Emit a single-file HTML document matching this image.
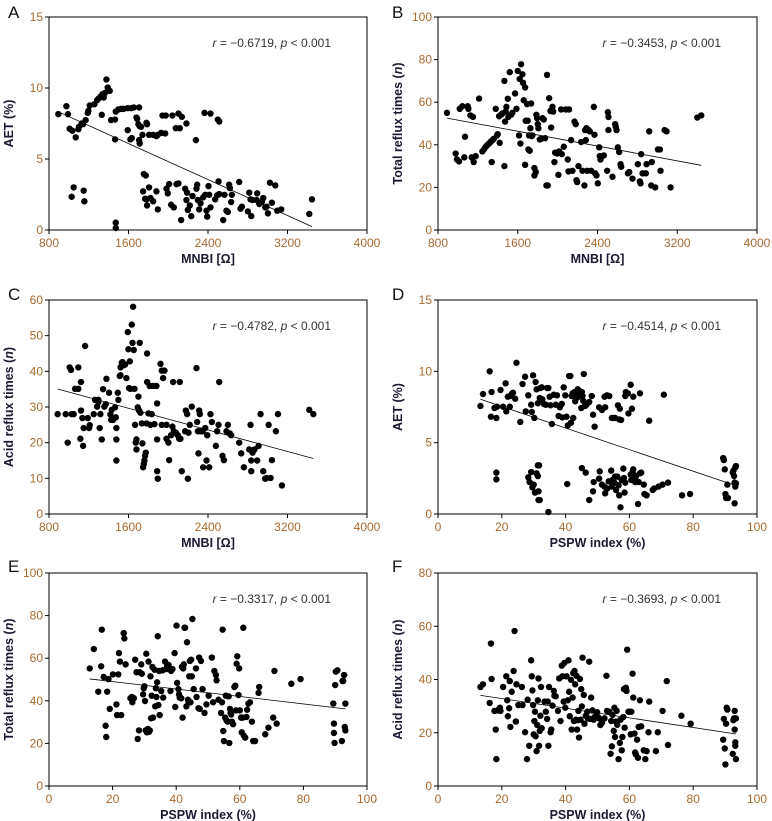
<!DOCTYPE html>
<html><head><meta charset="utf-8"><style>
body{margin:0;background:#fff;}
svg{display:block;font-family:"Liberation Sans",sans-serif;}
.tick{fill:#a8692e;font-size:12px;}
.title{fill:#1a1a33;font-size:12.5px;font-weight:bold;}
.stat{fill:#333;font-size:12px;}
.letter{fill:#111;font-size:17px;}
</style></head><body>
<svg id="chart" width="772" height="821" viewBox="0 0 772 821"></svg>
<script>
// Panel A: MNBI vs AET
const aX=[894,975,991,1008,1035,1069,1096,1102,1129,1143,1169,1190,1196,1210,1257,1284,1297,1317,1337,1351,1364,1378,1391,1411,1331,1425,1465,1472,1465,1498,1525,1552,1592,1626,1653,1707,1592,1619,1633,1680,1687,1700,1713,1727,1707,1713,1740,1781,1787,1807,1848,1881,1895,1928,1942,1975,1969,2042,2076,2103,2116,2137,2183,2278,2365,2425,2499,2513,
1028,1048,1149,1156,1472,1472,1754,1774,1747,1767,1781,1807,1787,1821,1848,1881,1895,1982,1995,2009,2029,2056,2083,2103,2130,2170,2183,2190,2197,2217,2231,2244,2284,2291,2298,2311,2325,2351,2372,2385,2392,2405,2412,2425,2472,2492,2506,2513,2553,2566,2586,2600,2613,2620,2633,2640,2714,2727,2741,2801,2815,2828,2835,2848,2889,2895,2916,2942,2956,2976,2989,3003,3023,3043,3077,3097,3137,3419,3446];
const aY=[8.16,8.72,8.16,7.13,6.99,6.52,7.10,7.27,7.50,7.45,7.74,8.25,8.39,8.77,8.86,9.14,9.24,9.38,9.56,9.33,9.66,10.6,10.03,9.80,8.11,7.74,7.78,8.34,6.38,8.49,8.53,8.53,8.58,8.58,8.63,8.63,7.03,6.38,6.47,7.92,7.83,7.45,7.31,7.27,6.33,6.09,6.70,7.55,7.45,6.70,6.70,6.61,6.70,6.84,8.06,8.06,6.80,8.06,7.17,8.20,7.17,7.97,7.50,6.33,8.25,8.20,7.78,7.64,
2.34,3.00,2.77,2.02,0.52,0.14,3.94,3.84,2.72,2.20,2.16,3.00,1.73,2.25,2.02,2.72,1.45,2.91,2.58,3.23,1.78,1.59,3.23,3.28,0.70,2.91,2.11,2.63,1.41,1.73,0.98,2.39,2.91,3.19,2.11,1.45,1.88,2.30,2.48,1.36,0.94,3.09,2.48,1.59,2.16,2.44,3.42,2.53,0.70,2.48,1.36,1.27,3.19,2.95,1.97,2.48,3.38,1.50,1.64,1.31,2.63,2.16,0.98,2.11,2.11,2.58,1.83,1.97,2.25,1.59,1.64,1.17,3.33,1.92,3.14,1.36,1.45,1.13,2.16];
// Panel B: MNBI vs total reflux
const bX=[890,977,991,1011,1018,1044,1064,1071,1098,1105,1125,1138,1151,1158,1178,1212,1245,1265,1279,1292,1305,1319,1332,1339,1346,1359,1379,1392,1399,1413,1419,1433,1446,1466,1466,1473,1479,1486,1500,1506,1520,1533,1546,1573,1587,1600,1613,1620,1627,1633,1647,1653,1660,1674,1674,1680,1694,1700,1707,1714,1720,1727,1734,1740,1747,1767,1767,1781,1787,1794,1801,1807,1821,1834,1848,1861,1874,1888,1894,1901,1915,1928,1935,1948,1955,1968,1975,1995,2008,2015,2035,2042,2062,2082,2102,2109,2115,2135,2149,2169,2182,2189,2196,2209,2236,2249,2269,2276,2283,2289,2296,2310,2323,2336,2363,2370,2376,2390,2403,2417,2423,2430,2463,2497,2504,2510,2510,2550,2577,2584,2591,2604,2617,2631,2638,2705,2718,2751,2805,2825,2832,2838,2852,2885,2892,2919,2939,2945,2979,3006,3026,3032,3073,3093,3133,3401,3441];
const bY=[55,35.9,33.1,32.2,56.9,58.1,34.1,43.8,58.1,56.9,53.8,34.1,53.1,31.9,34.7,61.7,36.9,38.1,39.1,39.7,40.3,40.9,41.6,31.9,42.2,42.8,56.9,44.4,45,53.4,40.9,54.1,54.7,70,30,50.9,55.6,57.8,61.6,53.1,74.1,54.1,55,64.1,56.9,74.7,44.4,70.9,40.6,77.8,73.1,69.1,60.9,66.9,30.6,51.3,59.1,51.3,37.8,44.4,37.2,47.8,59.4,44.1,44.4,25.6,29.1,27.2,54.1,52.5,49.7,47.8,42.5,42.8,52.5,51.9,43.1,20.9,72.8,20.9,61.9,55.9,48.1,57.8,55.6,31.9,36.3,35.9,25.9,36.9,56.6,35.6,39.1,56.6,33.1,27.5,56.6,42.2,27.8,50.9,49.7,23.4,22.5,30,41.3,27.8,20.9,46.9,42.2,47.8,27.8,46.9,46.3,27.8,57.8,44.7,26.6,25.6,21.9,38.8,34.7,33.1,35,27.8,55.3,53.1,46.9,25,49.7,48.4,46.9,38.8,36.6,30.9,29.7,26.6,27.2,24.1,30.9,22.8,21.9,35.6,26.6,26.6,30.9,46.3,20.9,31.9,20,37.8,37.8,27.8,46.9,46.3,20,52.8,53.8];
// Panel C: MNBI vs acid reflux
const cX=[887,968,988,1008,1022,1028,1048,1062,1095,1095,1116,1122,1122,1136,1143,1149,1163,1190,1203,1210,1250,1263,1284,1297,1297,1310,1317,1331,1344,1357,1371,1378,1404,1418,1425,1431,1445,1465,1472,1478,1478,1478,1492,1498,1512,1519,1519,1532,1539,1552,1566,1579,1593,1599,1606,1613,1619,1633,1640,1646,1653,1660,1666,1673,1680,1680,1693,1700,1707,1713,1720,1734,1740,1747,1754,1760,1767,1774,1781,1787,1787,1801,1814,1821,1834,1848,1861,1881,1888,1888,1888,1895,1922,1935,1935,1948,1962,1982,1982,2002,2009,2029,2042,2049,2056,2076,2096,2110,2116,2123,2136,2170,2177,2190,2197,2204,2217,2237,2284,2291,2298,2304,2311,2318,2325,2345,2351,2372,2385,2392,2412,2425,2439,2479,2492,2506,2513,2546,2560,2586,2600,2620,2633,2714,2734,2761,2815,2828,2835,2835,2848,2868,2895,2909,2929,2956,2976,2989,3010,3030,3043,3083,3104,3144,3419,3460];
const cY=[28.0,28.0,20.0,41.1,40.4,28.0,28.0,35.1,35.1,41.1,21.1,37.0,29.0,26.9,19.1,24.1,47.1,26.9,24.1,24.9,28.0,32.0,30.1,31.4,32.0,24.1,28.0,20.9,35.0,30.1,30.8,37.9,34.0,27.9,26.4,29.2,26.4,29.9,27.1,24.1,20.9,15.0,34.0,32.0,38.7,38.9,41.1,42.4,42.6,41.7,41.9,38.1,51.0,46.2,35.3,42.8,35.1,53.1,48.0,58.1,46.0,35.1,25.0,20.0,20.9,18.1,29.9,32.9,29.0,48.0,28.4,25.4,19.8,13.1,14.0,15.0,16.3,17.2,25.4,37.0,45.0,28.2,35.9,25.0,28.0,35.9,25.2,35.9,31.0,20.9,12.0,9.9,42.1,40.2,25.0,38.1,40.2,25.0,21.1,20.0,15.1,22.1,24.5,37.0,23.2,22.8,22.1,21.1,37.0,21.1,12.0,23.2,29.0,28.0,9.9,22.8,25.0,30.1,40.9,25.8,23.2,17.0,29.0,28.0,23.2,23.2,13.1,24.1,15.0,22.1,13.1,28.0,25.8,19.1,23.2,25.0,37.0,16.3,15.1,23.2,25.0,22.6,22.1,20.0,17.0,13.1,18.1,25.0,15.0,12.0,17.2,18.1,15.0,19.1,28.0,12.0,9.9,10.1,25.0,10.1,15.1,23.2,28.0,8.0,29.2,28.0];
// Panel D: PSPW vs AET
const dX=[13.3,14.1,16.2,16.6,16.8,17.7,18.3,18.5,19.6,20.4,21.2,21.4,21.9,22.5,22.7,23.1,23.5,24.2,24.6,25.8,26.5,27.3,27.5,28.3,29.2,29.4,29.8,30.2,30.6,30.9,31.3,31.9,32.1,32.5,32.7,33.2,33.8,34.2,34.6,35.0,35.3,35.7,36.3,36.9,37.3,37.8,38.2,38.8,39.0,39.4,39.9,40.3,40.7,41.1,41.5,41.7,41.9,42.2,42.4,42.8,43.0,43.2,43.4,43.6,43.8,44.0,44.2,44.5,44.9,45.1,45.3,45.5,45.7,46.1,46.5,47.4,48.2,48.6,49.1,50.5,51.4,52.2,52.4,53.0,53.7,54.5,55.1,55.5,56.4,56.8,57.0,57.4,58.7,58.9,59.5,59.7,60.4,60.8,61.2,63.3,66.2,70.8,
18.3,18.3,28.3,28.7,29.2,29.6,30.0,30.4,30.9,31.3,31.3,31.5,31.5,31.7,31.9,34.6,40.5,45.1,46.3,47.4,48.6,48.8,50.5,50.7,51.4,52.2,52.4,53.0,53.5,54.3,54.5,54.7,55.3,55.5,55.8,56.2,56.6,56.8,57.2,57.6,58.1,58.3,58.5,58.7,60.4,60.6,61.0,61.2,61.6,61.8,62.0,62.7,62.9,63.3,63.7,64.5,64.7,65.4,67.3,67.7,69.1,70.4,72.1,76.5,79.0,89.4,89.6,89.9,90.1,90.3,90.7,90.9,92.4,92.6,92.8,93.0,93.2,93.4,93.4,93.0,93.2];
const dY=[7.57,8.41,10.0,6.82,8.55,7.43,6.73,7.52,8.69,7.52,9.16,7.19,8.22,7.52,8.27,8.41,8.50,8.08,10.6,6.45,9.11,9.62,7.19,8.32,7.66,7.15,9.72,6.73,9.25,8.74,7.76,8.13,8.83,8.88,8.04,7.71,7.66,8.83,8.83,8.22,7.62,6.31,8.36,7.66,8.32,6.87,7.48,7.71,6.77,8.88,8.32,6.82,6.21,9.67,9.67,6.40,8.27,8.46,6.73,8.55,7.90,8.08,8.46,8.32,8.74,8.22,8.46,8.60,7.43,8.55,8.27,7.94,9.81,7.57,7.66,7.85,8.27,6.96,6.12,7.48,7.29,8.22,7.48,8.32,8.27,6.73,6.73,6.73,7.62,6.63,7.38,6.59,8.27,8.55,8.46,7.05,9.06,7.38,8.22,8.46,6.54,8.36,
2.90,2.43,2.57,2.24,2.94,1.87,2.06,1.50,2.85,3.41,2.66,1.59,0.98,3.41,0.98,0.14,2.10,3.22,2.90,0.98,1.59,2.24,2.48,2.99,2.06,1.92,1.45,1.78,2.29,3.04,1.92,2.38,2.20,2.62,1.68,2.62,2.01,1.31,0.47,2.38,3.18,2.52,1.50,2.20,2.76,2.38,2.94,3.13,2.71,2.24,2.62,0.70,2.24,2.85,2.90,2.06,1.40,1.31,1.68,1.78,1.92,2.06,2.20,1.31,1.40,3.92,3.78,3.13,1.40,1.12,2.06,1.12,2.90,3.04,2.66,2.20,3.27,3.36,2.15,0.75,1.92];
// Panel E: PSPW vs total reflux
const eX=[12.8,14.1,15.5,16.4,16.6,17.2,17.8,18.0,18.3,18.7,19.1,20.1,21.2,21.4,21.8,22.0,22.3,22.7,23.5,23.7,24.1,25.6,26.0,26.2,26.7,27.1,27.5,27.9,28.3,28.5,29.0,29.2,29.6,29.8,30.0,30.2,30.4,30.6,30.8,31.1,31.3,31.5,31.7,31.9,32.1,32.3,32.5,32.7,33.2,33.4,33.6,33.8,34.0,34.2,34.4,34.6,34.8,35.3,35.7,35.9,36.5,36.9,37.1,37.6,38.2,38.4,38.8,39.5,39.7,40.1,40.3,40.7,40.9,41.1,41.6,41.8,42.0,42.2,42.4,42.6,42.8,43.2,43.4,43.7,43.9,44.1,44.3,44.5,44.7,44.9,45.1,45.5,46.2,46.4,47.0,47.2,47.4,47.8,48.3,48.9,49.5,50.2,51.2,51.6,52.0,52.5,52.7,53.3,54.1,54.4,54.6,54.8,55.0,55.4,55.6,55.8,56.2,56.5,56.7,56.9,57.1,57.3,57.5,57.9,58.3,58.6,58.8,59.0,59.2,59.6,59.8,60.0,60.4,60.6,60.9,61.1,61.3,61.7,62.1,62.3,62.7,63.2,63.8,64.2,64.8,65.9,66.1,68.0,69.0,70.5,70.9,71.6,76.2,79.1,89.4,89.6,89.6,89.8,90.0,90.2,90.7,92.1,92.3,92.5,92.8,92.8,93.0,93.2,93.2];
const eY=[55.2,64.3,44.3,56.2,73.4,51.2,28.3,23.0,44.3,50.2,36.2,52.4,38.3,33.3,52.4,62.4,58.4,33.3,71.8,69.3,57.1,41.2,41.8,39.3,41.2,59.3,53.4,22.1,26.1,53.4,57.1,52.7,43.0,45.9,46.8,39.9,26.1,62.1,25.2,26.8,58.4,25.5,26.1,51.5,31.8,42.4,55.9,32.1,54.6,37.4,45.9,41.8,48.7,70.3,38.0,54.0,33.3,44.6,54.3,41.5,58.4,54.9,55.9,56.8,44.6,54.0,54.9,62.4,37.1,75.3,48.4,45.5,43.0,41.5,41.2,55.9,32.1,55.2,57.1,74.3,74.3,37.4,67.5,40.5,39.3,51.5,58.7,39.3,59.3,51.5,78.4,45.5,55.2,41.8,36.5,60.3,36.2,58.7,45.5,34.3,38.3,42.4,60.3,39.3,54.0,52.1,49.6,40.5,34.3,39.3,73.4,25.8,21.1,32.1,42.4,30.8,30.2,42.1,20.2,36.2,34.3,33.6,30.2,29.0,46.5,47.1,35.5,57.4,60.9,42.7,55.2,35.5,32.1,25.2,32.1,74.3,23.6,22.7,32.4,35.8,38.7,39.3,30.2,21.1,21.1,43.7,46.5,24.3,27.4,32.1,54.0,29.3,48.0,50.2,38.7,29.3,24.9,20.2,47.4,53.7,54.3,21.1,49.3,49.3,52.1,52.1,27.7,38.7,26.1];
// Panel F: PSPW vs acid reflux
const fX=[13.3,14.1,16.2,16.6,16.8,17.7,18.1,18.3,18.7,19.4,19.6,20.4,21.4,21.7,21.9,22.3,22.5,22.7,23.1,23.7,24.0,24.4,24.6,25.2,26.3,26.5,27.3,27.9,28.1,28.6,29.2,29.4,29.6,29.8,30.0,30.2,30.4,30.6,30.9,31.1,31.3,31.5,31.7,31.9,32.1,32.3,32.5,33.4,33.8,34.2,34.4,34.6,34.8,35.3,35.5,35.9,36.3,36.5,36.9,37.6,38.0,38.4,38.8,39.0,39.4,39.6,39.9,40.3,40.7,40.9,41.1,41.3,41.7,41.9,42.2,42.4,42.6,42.8,43.0,43.2,43.4,43.6,43.8,44.0,44.2,44.5,44.7,44.9,45.1,45.3,45.7,45.9,46.3,46.8,47.0,47.4,47.6,48.0,48.4,48.8,49.1,49.5,49.9,50.3,50.5,50.9,51.4,52.2,52.8,53.0,53.7,54.1,54.3,54.5,54.7,55.1,55.3,55.5,55.8,56.0,56.2,56.6,57.0,57.2,57.6,57.8,58.1,58.3,58.5,58.7,58.9,59.1,59.3,59.7,59.9,60.4,60.6,61.0,61.2,61.6,61.8,62.0,62.4,62.7,62.9,63.3,63.7,64.5,65.0,65.4,66.0,66.2,68.3,68.9,70.4,71.7,72.1,76.3,79.2,89.4,89.6,89.9,90.1,90.3,90.5,90.7,92.4,92.6,92.8,93.0,93.0,93.2,93.2,93.4,93.4];
const fY=[37.2,38.2,31.2,53.5,40.2,28.2,21.2,10.1,28.4,29.4,28.2,37.2,41.2,32.2,26.2,29.2,39.4,22.2,35.4,43.2,58.2,24.2,38.2,30.4,37.2,30.4,20.2,10.1,32.4,15.1,47.2,41.2,35.9,30.4,19.4,24.4,27.9,18.7,13.1,22.9,32.2,40.4,15.1,20.7,26.4,37.2,21.7,31.7,27.9,25.2,31.7,15.1,37.2,20.2,21.2,30.2,35.7,33.9,33.7,28.2,40.4,24.4,45.2,41.2,31.7,46.2,29.4,41.2,32.2,47.2,35.4,26.2,39.9,21.2,33.2,42.4,24.4,43.2,38.2,24.9,41.4,21.2,24.7,28.2,18.2,40.2,24.9,36.4,29.9,48.2,34.2,23.4,26.4,27.9,25.4,46.7,25.2,33.2,28.4,24.9,25.9,26.4,27.7,25.7,25.4,22.9,23.7,25.4,41.4,28.2,27.9,12.1,24.4,14.9,26.7,20.7,29.4,18.4,24.2,28.2,23.0,10.1,16.2,24.9,13.4,18.4,25.9,36.4,21.9,36.4,36.9,35.7,51.2,27.9,27.9,19.4,27.9,42.2,33.2,19.7,12.6,11.9,17.4,10.6,22.2,32.2,22.4,13.4,10.1,13.1,20.2,31.7,13.1,20.2,28.2,39.4,15.4,26.4,23.4,17.4,25.2,14.1,8.1,23.4,29.4,28.7,12.1,24.7,25.4,28.2,21.2,16.4,15.1,10.1,25.4];

const panels=[
 {id:'a',letter:'A',x:aX,y:aY,L:49,R:367,T:17,B:230,xmin:800,xmax:4000,xt:[800,1600,2400,3200,4000],ymax:15,yt:[0,5,10,15],xtitle:'MNBI [Ω]',ytitle:'AET (%)',stat:'−0.6719',lx:8,ly:18},
 {id:'b',letter:'B',x:bX,y:bY,L:438,R:757,T:17,B:230,xmin:800,xmax:4000,xt:[800,1600,2400,3200,4000],ymax:100,yt:[0,20,40,60,80,100],xtitle:'MNBI [Ω]',ytitle:'Total reflux times (n)',stat:'−0.3453',lx:392,ly:18},
 {id:'c',letter:'C',x:cX,y:cY,L:49,R:367,T:300,B:514,xmin:800,xmax:4000,xt:[800,1600,2400,3200,4000],ymax:60,yt:[0,10,20,30,40,50,60],xtitle:'MNBI [Ω]',ytitle:'Acid reflux times (n)',stat:'−0.4782',lx:8,ly:300},
 {id:'d',letter:'D',x:dX,y:dY,L:438,R:757,T:300,B:514,xmin:0,xmax:100,xt:[0,20,40,60,80,100],ymax:15,yt:[0,5,10,15],xtitle:'PSPW index (%)',ytitle:'AET (%)',stat:'−0.4514',lx:392,ly:300},
 {id:'e',letter:'E',x:eX,y:eY,L:49,R:367,T:573,B:786,xmin:0,xmax:100,xt:[0,20,40,60,80,100],ymax:100,yt:[0,20,40,60,80,100],xtitle:'PSPW index (%)',ytitle:'Total reflux times (n)',stat:'−0.3317',lx:8,ly:572},
 {id:'f',letter:'F',x:fX,y:fY,L:438,R:757,T:573,B:786,xmin:0,xmax:100,xt:[0,20,40,60,80,100],ymax:80,yt:[0,20,40,60,80],xtitle:'PSPW index (%)',ytitle:'Acid reflux times (n)',stat:'−0.3693',lx:392,ly:572}
];
const NS='http://www.w3.org/2000/svg';
const svg=document.getElementById('chart');
function mk(tag,attrs,parent){const e=document.createElementNS(NS,tag);for(const k in attrs)e.setAttribute(k,attrs[k]);(parent||svg).appendChild(e);return e;}
panels.forEach(p=>{
  const g=mk('g',{});
  
  
  const sx=v=>p.L+(v-p.xmin)/(p.xmax-p.xmin)*(p.R-p.L);
  const sy=v=>p.B-v/p.ymax*(p.B-p.T);
  const lt=mk('text',{x:p.lx,y:p.ly,class:'letter'},g);lt.textContent=p.letter;
  
  
  const fr=mk('rect',{x:p.L,y:p.T,width:p.R-p.L,height:p.B-p.T,fill:'none',stroke:'#000','stroke-width':1},g);
  
  
  p.xt.forEach(t=>{const X=sx(t);mk('line',{x1:X,x2:X,y1:p.B,y2:p.B+4,stroke:'#000'},g);
    const tx=mk('text',{x:X,y:p.B+17,class:'tick','text-anchor':'middle'},g);tx.textContent=t;
    
    });
  p.yt.forEach(t=>{const Y=sy(t);mk('line',{x1:p.L-4,x2:p.L,y1:Y,y2:Y,stroke:'#000'},g);
    const tx=mk('text',{x:p.L-6,y:Y+4,class:'tick','text-anchor':'end'},g);tx.textContent=t;
    
    });
  const xt=mk('text',{x:(p.L+p.R)/2,y:p.B+33,class:'title','text-anchor':'middle'},g);xt.textContent=p.xtitle;
  
  
  const yx=p.L-36,yy=(p.T+p.B)/2;
  const yt=mk('text',{x:yx,y:yy,class:'title','text-anchor':'middle',transform:`rotate(-90 ${yx} ${yy})`},g);
  if(p.ytitle.endsWith('(n)')){yt.textContent=p.ytitle.slice(0,-2);const ts=mk('tspan',{'font-style':'italic'},yt);ts.textContent='n';const t2=mk('tspan',{},yt);t2.textContent=')';}
  else yt.textContent=p.ytitle;
  
  
  const st=mk('text',{x:p.R-36,y:p.T+30,class:'stat','text-anchor':'end'},g);
  st.innerHTML='<tspan font-style="italic">r</tspan> = '+p.stat+', <tspan font-style="italic">p</tspan> &lt; 0.001';
  
  
  // regression
  const n=Math.min(p.x.length,p.y.length);let mx=0,my=0;for(let i=0;i<n;i++){mx+=p.x[i];my+=p.y[i];}mx/=n;my/=n;
  let sxy=0,sxx=0;for(let i=0;i<n;i++){sxy+=(p.x[i]-mx)*(p.y[i]-my);sxx+=(p.x[i]-mx)**2;}
  const b=sxy/sxx,a=my-b*mx;let x0=Math.min(...p.x),x1=Math.max(...p.x);
  if(a+b*x1<0)x1=-a/b;
  const rl=mk('line',{x1:sx(x0),y1:sy(a+b*x0),x2:sx(x1),y2:sy(a+b*x1),stroke:'#000','stroke-width':0.8},g);
  
  
  for(let i=0;i<n;i++){const c=mk('circle',{cx:sx(p.x[i]),cy:sy(p.y[i]),r:3.2,fill:'#000'},g);
    
    }
});
</script>
</body></html>
